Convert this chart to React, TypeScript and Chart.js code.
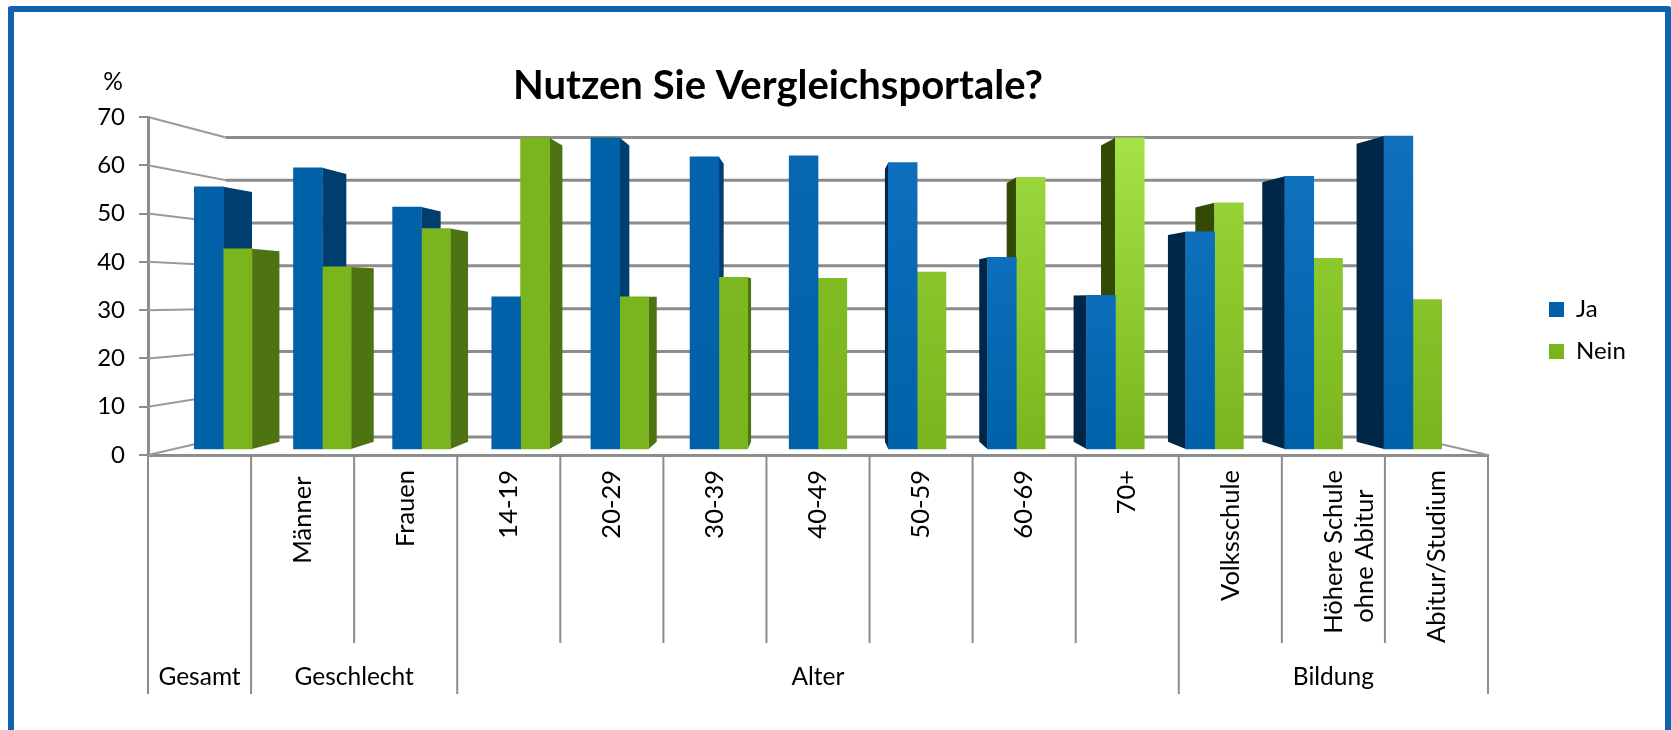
import React, { useEffect, useRef } from "react";
import { Chart, registerables } from "chart.js";

Chart.register(...registerables);

const categories: (string | string[])[] = [
  "", "Männer ", "Frauen", "14-19", "20-29", "30-39", "40-49", "50-59", "60-69", "70+",
  "Volksschule", ["Höhere Schule", "ohne Abitur   "], "Abitur/Studium",
];
const groupLabels = ["Gesamt", "Geschlecht", "Alter", "Bildung"];
const groupSpans = [1, 2, 7, 3];
const ja = [55.3, 59.3, 51, 32.1, 65.6, 61.6, 61.8, 60.4, 40.4, 32.4, 45.8, 57.5, 66];
const nein = [42.2, 38.4, 46.5, 65.6, 32.1, 36.2, 36, 37.3, 57.3, 65.6, 51.9, 40.2, 31.5];
const yTicks = [0, 10, 20, 30, 40, 50, 60, 70];
const sheen = [0, 0, 0, 0, 0, 0.1, 0.25, 0.6, 0.85, 1, 0.8, 0.7, 0.6];

const FONT = "Lato";
const GREY = "#8c8c8c";
const hex = (c: string) => [1, 3, 5].map((i) => parseInt(c.slice(i, i + 2), 16));
const mix = (a: string, b: string, k: number) => {
  const A = hex(a), B = hex(b);
  return `rgb(${A.map((v, i) => Math.round(v + (B[i] - v) * k)).join(",")})`;
};

function fill(base: string, hi: string) {
  return (c: any) => {
    const k = sheen[c.dataIndex] ?? 0;
    const s = c.chart.scales?.yb;
    if (!s || !k) return base;
    const g = c.chart.ctx.createLinearGradient(0, s.getPixelForValue(0), 0, s.getPixelForValue(66));
    g.addColorStop(0, base);
    g.addColorStop(1, mix(base, hi, k));
    return g;
  };
}

const perspective = {
  id: "perspective",
  afterLayout(chart: any) {
    const { legend, titleBlock } = chart;
    if (titleBlock) titleBlock.left = 68;
    if (legend) {
      legend.left = 1549 - legend.options.labels.padding;
      legend.right = legend.left + legend.width;
      legend.top = 279.5;
      legend.bottom = legend.top + legend.height;
    }
  },
  beforeDatasetsDraw(chart: any) {
    const { ctx, scales } = chart;
    const y2 = scales.y2, x = scales.x;
    const L = x.left, R = x.right;
    const depthX = 78;
    const top = y2.getPixelForValue(70), bot = y2.getPixelForValue(0);
    const backTop = top + 20.5, backBot = bot - 18;
    const backY = (v: number) => backBot + ((backTop - backBot) * v) / 70;
    ctx.save();
    ctx.strokeStyle = GREY;
    yTicks.forEach((v) => {
      ctx.lineWidth = 2;
      ctx.strokeStyle = "#9a9a9a";
      ctx.beginPath();
      ctx.moveTo(L, y2.getPixelForValue(v));
      ctx.lineTo(L + depthX, backY(v));
      ctx.stroke();
      ctx.lineWidth = 3;
      ctx.strokeStyle = GREY;
      ctx.beginPath();
      ctx.moveTo(L + depthX, backY(v));
      ctx.lineTo(R - depthX, backY(v));
      ctx.stroke();
    });
    ctx.lineWidth = 2;
    ctx.strokeStyle = "#9a9a9a";
    ctx.beginPath();
    ctx.moveTo(R, bot);
    ctx.lineTo(R - depthX, backBot);
    ctx.stroke();

    const vx = (L + R) / 2;
    const vy = 297;
    const f = 0.0485;
    const side = (meta: any, leftColor: string, rightColor: string) => {
      meta.data.forEach((bar: any) => {
        const { x: cx, y, base, width } = bar.getProps(["x", "y", "base", "width"], true);
        const l = cx - width / 2, r = cx + width / 2;
        const isLeft = cx < vx;
        const e = isLeft ? r : l;
        if ((isLeft && e >= vx) || (!isLeft && e <= vx)) return;
        const ex = e + (vx - e) * f;
        ctx.fillStyle = isLeft ? leftColor : rightColor;
        ctx.beginPath();
        ctx.moveTo(e, y);
        ctx.lineTo(ex, y + (vy - y) * f);
        ctx.lineTo(ex, base + (vy - base) * f);
        ctx.lineTo(e, base);
        ctx.closePath();
        ctx.fill();
      });
    };
    side(chart.getDatasetMeta(1), "#4e7313", "#334a06");
    side(chart.getDatasetMeta(0), "#003e70", "#002748");
    ctx.restore();
  },
  afterDraw(chart: any) {
    const { ctx, scales } = chart;
    const x = scales.x;
    const step = (x.right - x.left) / categories.length;
    const axisY = x.top + 1;
    ctx.save();
    ctx.strokeStyle = GREY;
    ctx.lineWidth = 2;
    const ends = new Set<number>([0]);
    groupSpans.reduce((sum, s) => { ends.add(sum + s); return sum + s; }, 0);
    for (let i = 0; i <= categories.length; i++) {
      const px = x.getPixelForValue(0) - step / 2 + i * step;
      ctx.beginPath();
      ctx.moveTo(px, axisY);
      ctx.lineTo(px, ends.has(i) ? 694 : 643);
      ctx.stroke();
    }
    ctx.fillStyle = "#000";
    ctx.font = `24.5px ${FONT}`;
    ctx.textAlign = "center";
    ctx.textBaseline = "middle";
    let start = 0;
    groupLabels.forEach((g, i) => {
      const px = x.getPixelForValue(0) - step / 2 + (start + groupSpans[i] / 2) * step;
      ctx.fillText(g, px, 677);
      start += groupSpans[i];
    });
    ctx.fillText("%", 113, 82);
    ctx.restore();
  },
};

export default function App() {
  const ref = useRef<HTMLCanvasElement>(null);
  useEffect(() => {
    const chart = new Chart(ref.current!, {
      type: "bar",
      plugins: [perspective],
      data: {
        labels: categories,
        datasets: [
          {
            label: "Ja",
            data: ja.map((y, x) => ({ x, y })),
            xAxisID: "xb",
            yAxisID: "yb",
            base: 0,
            backgroundColor: fill("#0060a8", "#1a7bcc"),
          },
          {
            label: "Nein",
            data: nein.map((y, x) => ({ x, y })),
            xAxisID: "xb",
            yAxisID: "yb",
            base: 0,
            backgroundColor: fill("#7ab51d", "#a5e346"),
          },
        ] as any,
      },
      options: {
        responsive: false,
        animation: false,
        layout: { padding: { left: 0, right: 183, top: 0, bottom: 0 } },
        barThickness: 28.8,
        plugins: {
          tooltip: { enabled: false },
          title: {
            display: true,
            text: "Nutzen Sie Vergleichsportale?",
            color: "#000",
            font: { family: FONT, size: 40, weight: "bold", lineHeight: 1.2 },
            padding: { top: 62, bottom: 7 },
          },
          legend: {
            position: "chartArea",
            align: "start",
            labels: {
              color: "#000",
              boxWidth: 15,
              boxHeight: 15,
              padding: 18,
              font: { family: FONT, size: 24 },
            },
          },
        },
        scales: {
          xb: { axis: "x", type: "linear", display: false, offset: false, min: -0.758, max: 12.758 },
          yb: { axis: "y", type: "linear", display: false, min: -1.26, max: 70 },
          x: {
            axis: "x",
            type: "category",
            position: "bottom",
            offset: true,
            grid: { display: false },
            border: { display: true, color: GREY, width: 3 },
            afterFit: (s: any) => { s.height = 275; },
            ticks: {
              autoSkip: false,
              minRotation: 90,
              maxRotation: 90,
              padding: 7,
              color: "#000",
              font: { family: FONT, size: 25.5, lineHeight: 1.25 },
            },
          },
          y2: {
            axis: "y",
            type: "linear",
            position: "left",
            min: 0,
            max: 70,
            afterFit: (s: any) => { s.width = 148; },
            grid: { drawOnChartArea: false, drawTicks: true, tickLength: 9, color: GREY, lineWidth: 2 },
            border: { display: true, color: GREY, width: 3 },
            ticks: {
              stepSize: 10,
              padding: 14,
              color: "#000",
              font: { family: FONT, size: 24 },
            },
          },
        },
      } as any,
    });
    return () => chart.destroy();
  }, []);

  return (
    <div style={{ position: "absolute", left: 0, top: 0, width: 1671, height: 730, overflow: "hidden", background: "#fff" }}>
      <canvas ref={ref} width={1671} height={730} style={{ display: "block" }} />
      <div
        style={{
          position: "absolute", left: 8, top: 6, width: 1651, height: 740, boxSizing: "content-box",
          borderTop: "6px solid #0d63ad", borderLeft: "6px solid #0d63ad", borderRight: "6px solid #0d63ad",
          borderRadius: 3, pointerEvents: "none",
        }}
      />
    </div>
  );
}
